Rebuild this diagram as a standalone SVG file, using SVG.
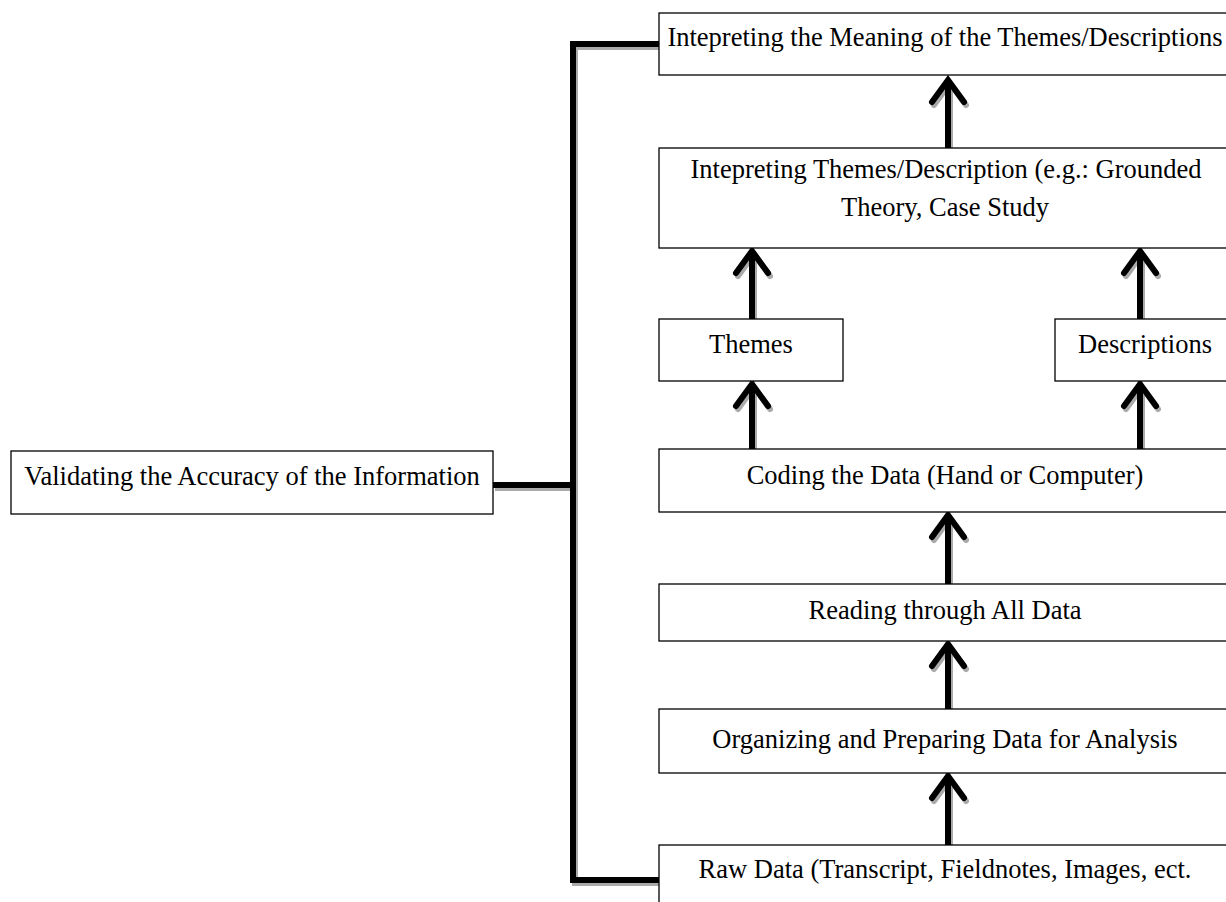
<svg xmlns="http://www.w3.org/2000/svg" width="1226" height="902" viewBox="0 0 1226 902">
<style>
.box{fill:#fff;stroke:#000;stroke-width:1.3}
.t{font-family:"Liberation Serif","Times New Roman",serif;font-size:26.5px;fill:#000;text-anchor:middle}
.ln{fill:none;stroke:#000;stroke-width:6;stroke-linecap:butt;stroke-linejoin:miter}
.sh{fill:none;stroke:#aaa;stroke-width:6;stroke-linecap:butt;stroke-linejoin:miter}
.ah{fill:none;stroke:#000;stroke-width:6;stroke-linecap:round;stroke-linejoin:miter}
.ahs{fill:none;stroke:#aaa;stroke-width:6;stroke-linecap:round;stroke-linejoin:miter}
</style>
<rect width="1226" height="902" fill="#fff"/>
<g id="connectors">
  <g transform="translate(2,3)">
    <path class="sh" d="M659 44 H573 V880 H659"/>
    <path class="sh" d="M493 485 H573"/>
  </g>
  <path class="ln" d="M659 44 H573 V880 H659"/>
  <path class="ln" d="M493 485 H573"/>
  <g id="arrows">
    <g transform="translate(2,3)">
      <path class="sh" d="M948 148 V82"/><path class="ahs" d="M932 102 L948 80 L964 102"/>
      <path class="sh" d="M752 319 V253"/><path class="ahs" d="M736 273 L752 251 L768 273"/>
      <path class="sh" d="M1140 319 V253"/><path class="ahs" d="M1124 273 L1140 251 L1156 273"/>
      <path class="sh" d="M752 449 V386"/><path class="ahs" d="M736 406 L752 384 L768 406"/>
      <path class="sh" d="M1140 449 V386"/><path class="ahs" d="M1124 406 L1140 384 L1156 406"/>
      <path class="sh" d="M948 584 V517"/><path class="ahs" d="M932 537 L948 515 L964 537"/>
      <path class="sh" d="M948 709 V646"/><path class="ahs" d="M932 666 L948 644 L964 666"/>
      <path class="sh" d="M948 845 V778"/><path class="ahs" d="M932 798 L948 776 L964 798"/>
    </g>
    <path class="ln" d="M948 148 V82"/><path class="ah" d="M932 102 L948 80 L964 102"/>
    <path class="ln" d="M752 319 V253"/><path class="ah" d="M736 273 L752 251 L768 273"/>
    <path class="ln" d="M1140 319 V253"/><path class="ah" d="M1124 273 L1140 251 L1156 273"/>
    <path class="ln" d="M752 449 V386"/><path class="ah" d="M736 406 L752 384 L768 406"/>
    <path class="ln" d="M1140 449 V386"/><path class="ah" d="M1124 406 L1140 384 L1156 406"/>
    <path class="ln" d="M948 584 V517"/><path class="ah" d="M932 537 L948 515 L964 537"/>
    <path class="ln" d="M948 709 V646"/><path class="ah" d="M932 666 L948 644 L964 666"/>
    <path class="ln" d="M948 845 V778"/><path class="ah" d="M932 798 L948 776 L964 798"/>
  </g>
</g>
<g id="meaning"><rect class="box" x="659" y="13" width="572" height="62"/><text class="t" x="945" y="46">Intepreting the Meaning of the Themes/Descriptions</text></g>
<g id="interpreting"><rect class="box" x="659" y="148" width="572" height="100"/><text class="t" x="946" y="178">Intepreting Themes/Description (e.g.: Grounded</text><text class="t" x="945" y="216">Theory, Case Study</text></g>
<g id="themes"><rect class="box" x="659" y="319" width="184" height="62"/><text class="t" x="751" y="353">Themes</text></g>
<g id="descriptions"><rect class="box" x="1055" y="319" width="180" height="62"/><text class="t" x="1145" y="353">Descriptions</text></g>
<g id="coding"><rect class="box" x="659" y="449" width="572" height="63"/><text class="t" x="945" y="484">Coding the Data (Hand or Computer)</text></g>
<g id="reading"><rect class="box" x="659" y="584" width="572" height="57"/><text class="t" x="945" y="619">Reading through All Data</text></g>
<g id="organizing"><rect class="box" x="659" y="709" width="572" height="64"/><text class="t" x="945" y="748">Organizing and Preparing Data for Analysis</text></g>
<g id="raw"><rect class="box" x="659" y="845" width="572" height="70"/><text class="t" x="945" y="878">Raw Data (Transcript, Fieldnotes, Images, ect.</text></g>
<g id="validating"><rect class="box" x="11" y="451" width="482" height="63"/><text class="t" x="252" y="485">Validating the Accuracy of the Information</text></g>
</svg>
